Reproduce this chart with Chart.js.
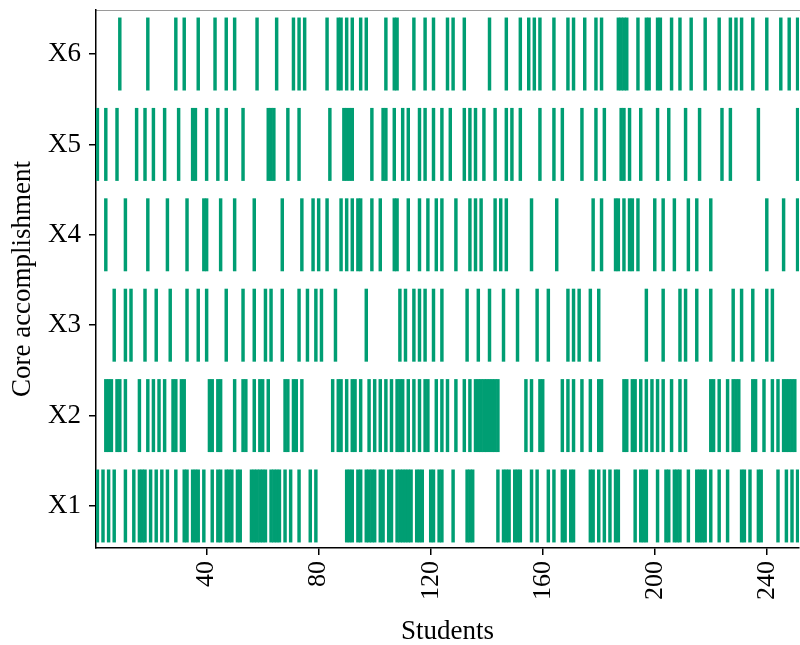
<!DOCTYPE html>
<html><head><meta charset="utf-8">
<script src="https://cdn.jsdelivr.net/npm/chart.js@4.4.1/dist/chart.umd.min.js"></script>
<style>html,body{margin:0;padding:0;background:#fff;}canvas{display:block;}</style>
</head><body>
<canvas id="c" width="800" height="645"></canvas>
<script>
// ---- data ----
const studentCount = 251;
const rowLabels = ['X1', 'X2', 'X3', 'X4', 'X5', 'X6'];
const xTickValues = [40, 80, 120, 160, 200, 240];

const x1Students = [1,3,5,7,11,14,16,17,18,20,22,24,26,29,32,33,35,36,37,39,42,44,45,47,48,49,51,52,56,57,58,59,60,61,63,64,65,66,68,70,73,77,79,90,91,92,94,95,97,98,99,100,102,103,105,106,108,109,110,111,112,113,115,116,117,120,121,123,124,128,133,134,135,144,146,147,148,150,151,152,156,158,162,164,167,168,170,171,177,178,180,182,184,186,187,193,195,196,197,201,204,205,207,208,209,212,215,216,217,218,220,223,226,231,232,234,237,238,244,247,249,251];
const x2Students = [4,5,6,8,9,11,16,19,21,23,25,28,29,31,32,41,42,44,45,50,53,54,57,59,60,62,68,69,71,72,74,85,87,88,90,92,93,95,98,100,102,104,106,108,109,110,112,114,116,118,119,122,124,126,129,132,134,136,137,138,139,140,141,142,143,144,154,156,159,160,167,169,171,174,177,180,181,189,190,192,193,195,197,199,201,203,206,209,211,220,221,223,226,228,229,230,235,236,239,242,244,246,247,248,249,250];
const x3Students = [7,11,13,18,22,27,33,37,40,47,53,57,61,63,67,73,76,79,81,86,97,109,111,114,116,118,121,124,133,137,141,146,151,158,162,169,171,173,177,180,197,203,209,211,215,220,228,231,235,240,242];
const x4Students = [4,11,19,26,33,39,40,45,50,57,67,74,78,80,83,88,90,92,94,95,99,102,107,108,112,116,119,122,124,129,134,136,138,143,145,147,156,165,178,181,186,187,189,191,192,194,200,203,207,212,215,220,240,246,251];
const x5Students = [1,4,8,15,18,21,25,30,35,36,40,44,47,53,62,63,64,69,73,84,89,90,91,92,99,103,104,107,110,112,116,118,121,124,127,132,134,136,139,143,147,149,152,159,164,167,174,179,182,188,189,191,195,201,205,211,216,224,227,237,251];
const x6Students = [9,19,29,32,37,43,47,50,58,65,71,73,75,83,87,88,90,92,95,97,104,107,108,114,118,121,126,128,132,141,147,152,155,157,159,164,169,171,175,179,181,187,188,189,190,194,197,198,201,202,206,209,213,218,223,227,229,231,235,240,245,248,251];

const rowStudents = [x1Students, x2Students, x3Students, x4Students, x5Students, x6Students];

// ---- styling ----
const barColor = '#009E73';
const barHalfHeight = 0.4;
const fontFamily = "'Liberation Serif', 'Times New Roman', serif";

const studentIds = Array.from({length: studentCount}, (_, i) => i + 1);
const datasets = rowStudents.map((list, r) => {
  const present = new Set(list);
  const rowValue = r + 1;
  return {
    label: rowLabels[r],
    data: studentIds.map(s => ({
      x: s,
      y: present.has(s) ? [rowValue - barHalfHeight, rowValue + barHalfHeight] : null
    })),
    backgroundColor: barColor,
    borderWidth: 0,
    borderSkipped: false,
    grouped: false,
    barPercentage: 1,
    categoryPercentage: 1,
    xAxisID: 'x',
    yAxisID: 'y'
  };
});

new Chart(document.getElementById('c'), {
  type: 'bar',
  data: { datasets },
  options: {
    responsive: false,
    animation: false,
    devicePixelRatio: 1,
    layout: { padding: { top: 0, right: 1, bottom: 0, left: 0 } },
    plugins: { legend: { display: false }, tooltip: { enabled: false } },
    scales: {
      x: {
        type: 'linear',
        position: 'bottom',
        min: 0.5,
        max: studentCount + 0.5,
        offset: false,
        afterBuildTicks: s => { s.ticks = xTickValues.map(v => ({ value: v })); },
        afterFit: s => { s.height = 97; s.paddingLeft = 0; s.paddingRight = 0; },
        grid: { display: true, drawOnChartArea: false, drawTicks: true, tickLength: 7, color: '#000', lineWidth: 1.5, offset: false },
        border: { display: true, color: '#000', width: 1.5 },
        ticks: {
          autoSkip: false, minRotation: 90, maxRotation: 90, padding: 6,
          color: '#000', font: { family: fontFamily, size: 26 }
        },
        title: { display: true, text: 'Students', color: '#000', font: { family: fontFamily, size: 27 }, padding: { top: 0, bottom: -3 } }
      },
      xTop: {
        type: 'linear',
        position: 'top',
        min: 0.5,
        max: studentCount + 0.5,
        afterFit: s => { s.height = 10; s.paddingLeft = 0; s.paddingRight = 0; },
        grid: { display: false },
        ticks: { display: false },
        border: { display: true, color: '#9a9a9a', width: 1 }
      },
      y: {
        type: 'linear',
        min: 0.535,
        max: 6.487,
        afterBuildTicks: s => { s.ticks = rowLabels.map((_, i) => ({ value: i + 1 })); },
        afterFit: s => { s.width = 96; s.paddingTop = 0; s.paddingBottom = 0; },
        grid: { display: true, drawOnChartArea: false, drawTicks: true, tickLength: 7, color: '#000', lineWidth: 1.5 },
        border: { display: true, color: '#000', width: 1.5 },
        ticks: {
          padding: 8, color: '#000', font: { family: fontFamily, size: 27 },
          callback: v => rowLabels[v - 1]
        },
        title: { display: true, text: 'Core accomplishment', color: '#000', font: { family: fontFamily, size: 27 }, padding: { top: 7, bottom: 0 } }
      }
    }
  }
});
</script>
</body></html>
